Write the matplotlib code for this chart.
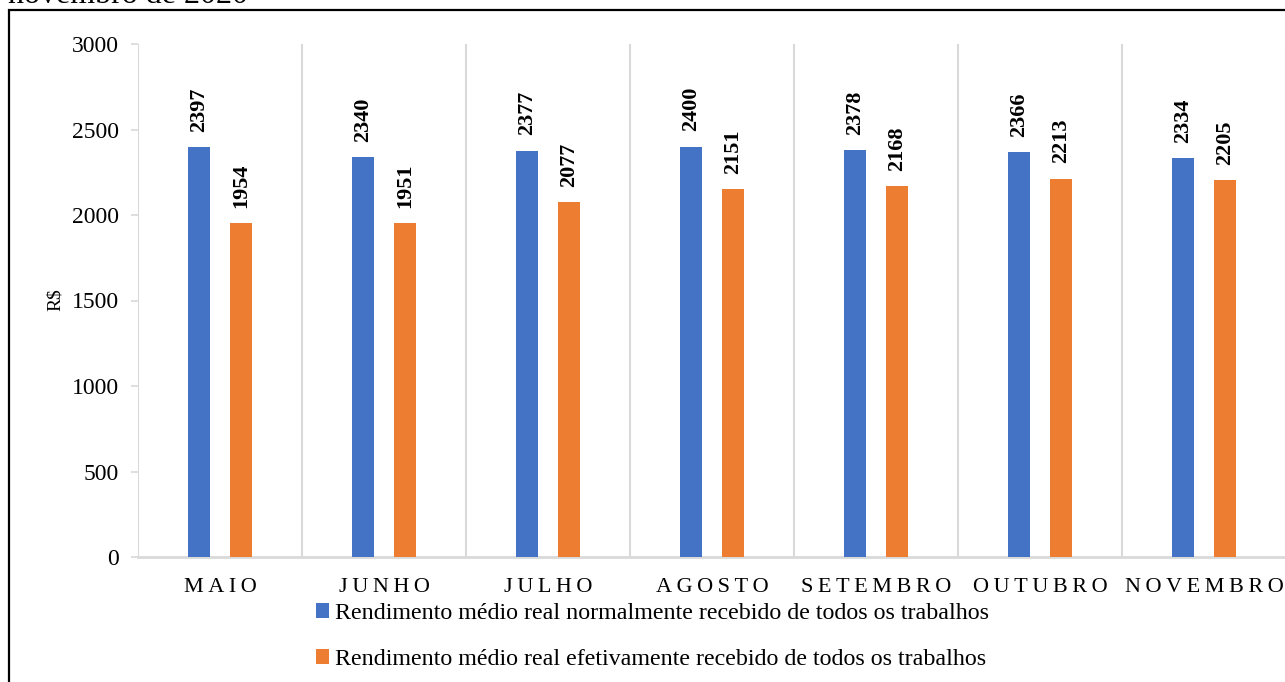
import matplotlib
matplotlib.use("Agg")
import matplotlib.pyplot as plt
from matplotlib.patches import Patch, Rectangle
import numpy as np

plt.rcParams['font.family'] = ['Liberation Serif', 'DejaVu Serif']

meses = ["MAIO", "JUNHO", "JULHO", "AGOSTO", "SETEMBRO", "OUTUBRO", "NOVEMBRO"]
normalmente = [2397, 2340, 2377, 2400, 2378, 2366, 2334]
efetivamente = [1954, 1951, 2077, 2151, 2168, 2213, 2205]
serie_nomes = [
    "Rendimento médio real normalmente recebido de todos os trabalhos",
    "Rendimento médio real efetivamente recebido de todos os trabalhos",
]
cores = ["#4472C4", "#ED7D31"]
y_ticks = [0, 500, 1000, 1500, 2000, 2500, 3000]

W, H = 1285, 682
fig = plt.figure(figsize=(W / 100, H / 100), dpi=100)

# outer frame (runs past the right and bottom edges)
fig.patches.append(Rectangle((9 / W, -0.05), 1.1, (H - 10) / H + 0.05,
                             transform=fig.transFigure, fill=False,
                             edgecolor="black", linewidth=1.6, clip_on=False))

# caption line, partially above the image
fig.text(8 / W, 1 - 3 / H, "novembro de 2020", fontsize=23,
         ha="left", va="baseline")

ax = fig.add_axes([138 / W, (H - 557) / H, 1148 / W, 513 / H])

x = np.arange(len(meses))
off, bw = 0.128, 0.134
b1 = ax.bar(x - off, normalmente, bw, color=cores[0], label=serie_nomes[0], zorder=3)
b2 = ax.bar(x + off, efetivamente, bw, color=cores[1], label=serie_nomes[1], zorder=3)

for bars in (b1, b2):
    for r in bars:
        ax.annotate(f"{r.get_height():.0f}",
                    (r.get_x() + r.get_width() / 2, r.get_height()),
                    xytext=(0, 11), textcoords="offset points",
                    rotation=90, ha="center", va="bottom",
                    fontsize=16, fontweight="bold")

ax.set_xlim(-0.5, len(meses) - 0.5)
ax.set_ylim(0, 3000)
ax.set_yticks(y_ticks)
ax.set_yticklabels([str(v) for v in y_ticks])

# category separators
for k in range(len(meses) + 1):
    ax.axvline(k - 0.5, color="#d9d9d9", linewidth=1.5, zorder=1)

for s in ("top", "right", "left"):
    ax.spines[s].set_visible(False)
ax.spines["bottom"].set_color("#d9d9d9")
ax.spines["bottom"].set_linewidth(2)

ax.set_xticks(x)
ax.set_xticklabels(["\u2009".join(m) for m in meses], fontsize=16)
ax.tick_params(axis="x", length=0, pad=15)
ax.tick_params(axis="y", length=5, width=1.2, color="#d9d9d9",
               labelsize=17, pad=9)

fig.text(55 / W, 1 - 300 / H, "R$", rotation=90, fontsize=14,
         ha="center", va="center")

handles = [Patch(facecolor=c, edgecolor="none") for c in cores]
fig.legend(handles, serie_nomes, loc="upper left",
           bbox_to_anchor=(316 / W, 1 - 603 / H), frameon=False,
           fontsize=17.3, handlelength=0.55, handleheight=0.55,
           handletextpad=0.25, labelspacing=1.05, borderpad=0, borderaxespad=0)

fig.savefig("out.png", dpi=100)
